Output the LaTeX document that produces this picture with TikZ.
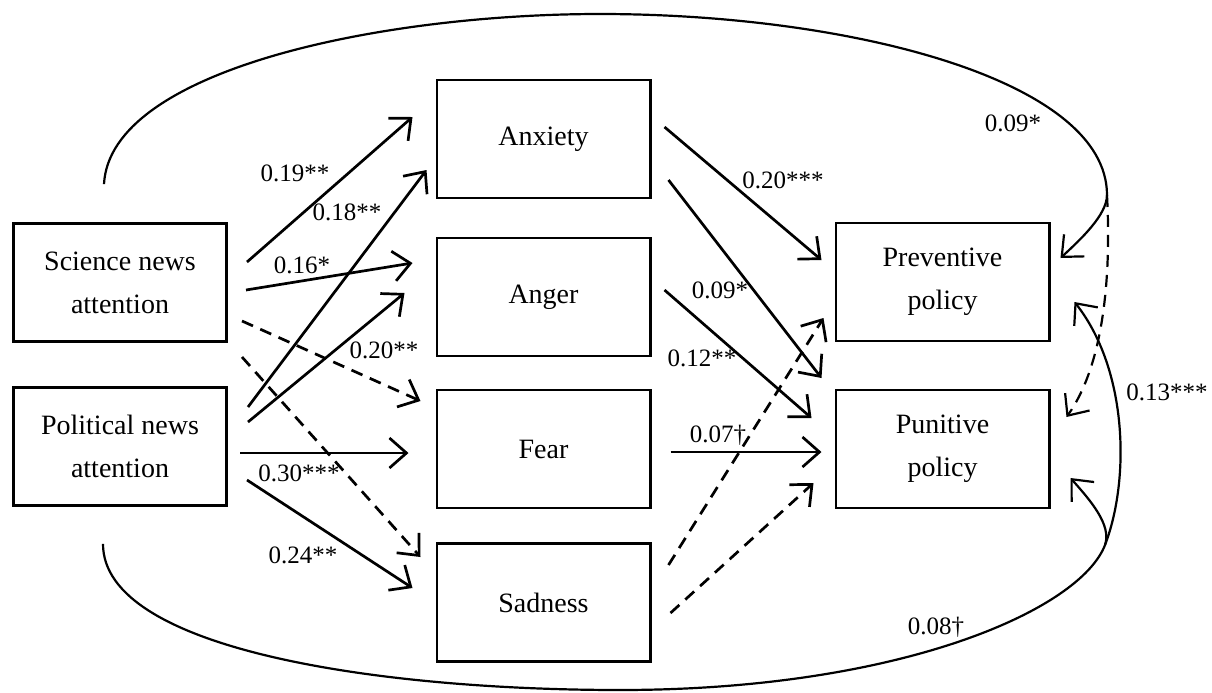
\documentclass[tikz,border=0pt]{standalone}
\usepackage{fontspec}
\setmainfont{Liberation Serif}
\usetikzlibrary{arrows.meta,calc}
\begin{document}
\begin{tikzpicture}[x=0.5pt,y=-0.5pt,
  box/.style={draw,line width=1.4pt,minimum width=106.6pt,minimum height=59pt,inner sep=0pt,align=center,font=\fontsize{14}{21.5}\selectfont},
  arr/.style={line width=1.35pt,-{Straight Barb[length=8.5pt,width=15pt,line width=1.35pt]}},
  darr/.style={arr,dash pattern=on 6pt off 4pt},
  carr/.style={line width=1.1pt,-{Straight Barb[length=8.5pt,width=15pt,line width=1.1pt]}},
  dcarr/.style={carr,dash pattern=on 6pt off 4pt},
  lbl/.style={font=\fontsize{12.5}{14}\selectfont,inner sep=0pt}]
\useasboundingbox (0,0) rectangle (1212,692);

% boxes
\node[box] (sci)  at (120,282.5)  {Science news\\attention};
\node[box] (pol)  at (120,446.5)  {Political news\\attention};
\node[box] (anx)  at (543.5,139)  {Anxiety};
\node[box] (ang)  at (543.5,297)  {Anger};
\node[box] (fear) at (543.5,449)  {Fear};
\node[box] (sad)  at (543.5,602.5){Sadness};
\node[box] (prev) at (942.5,282)  {Preventive\\policy};
\node[box] (pun)  at (942.5,449)  {Punitive\\policy};

% left paths
\draw[arr]  ($(sci.east)+(19,-20.5)$) -- ($(anx.west)+(-23,-22)$);
\draw[arr]  ($(sci.east)+(18,7.5)$)   -- ($(ang.west)+(-23,-34)$);
\draw[darr] ($(sci.east)+(14,38.5)$)  -- ($(fear.west)+(-15,-48)$);
\draw[darr] ($(sci.east)+(14,74.5)$)  -- ($(sad.west)+(-15,-45.5)$);
\draw[arr]  ($(pol.east)+(20,-39.5)$) -- ($(anx.west)+(-9,31)$);
\draw[arr]  ($(pol.east)+(20,-24.5)$) -- ($(ang.west)+(-31,-4)$);
\draw[arr]  ($(pol.east)+(12,6.5)$)   -- ($(fear.west)+(-27,4)$);
\draw[arr]  ($(pol.east)+(19,33.5)$)  -- ($(sad.west)+(-23,-14.5)$);

% right paths
\draw[arr]  ($(anx.east)+(13,-12)$)   -- ($(prev.west)+(-13,-22)$);
\draw[arr]  ($(anx.east)+(17,41)$)    -- ($(pun.west)+(-13,-71)$);
\draw[arr]  ($(ang.east)+(13,-7)$)    -- ($(pun.west)+(-23,-31)$);
\draw[arr]  ($(fear.east)+(19,3)$)    -- ($(pun.west)+(-13,3)$);
\draw[darr] ($(sad.east)+(17,-37.5)$) -- ($(prev.west)+(-11,36)$);
\draw[darr] ($(sad.east)+(19,10.5)$)  -- ($(pun.west)+(-21,34)$);

% correlation curves
\coordinate (tsplit) at (1107,195);
\draw[carr] ($(sci.north)+(-16,-38)$) .. controls (110,70) and (380,14) .. (600,14)
  .. controls (850,14) and (1107,80) .. (tsplit)
  .. controls (1107,215) and (1080,240) .. ($(prev.east)+(10,-24)$);
\draw[dcarr] (tsplit) .. controls (1112,290) and (1100,370) .. ($(pun.east)+(16,-32)$);

\coordinate (bsplit) at (1105,545);
\draw[carr] ($(pol.south)+(-17,37)$) .. controls (103,650) and (380,690) .. (620,690)
  .. controls (900,690) and (1080,610) .. (bsplit)
  .. controls (1112,525) and (1090,500) .. ($(pun.east)+(20,29)$);
\draw[carr] (bsplit) .. controls (1130,480) and (1128,370) .. ($(prev.east)+(24,20)$);

% labels
\node[lbl] (l1)  at (295,173)  {0.19**};
\node[lbl] (l2)  at (347,212)  {0.18**};
\node[lbl] (l3)  at (302,265)  {0.16*};
\node[lbl] (l4)  at (384,350)  {0.20**};
\node[lbl] (l5)  at (299,473)  {0.30***};
\node[lbl] (l6)  at (303,555)  {0.24**};
\node[lbl] (l7)  at (783,180)  {0.20***};
\node[lbl] (l8)  at (720,290)  {0.09*};
\node[lbl] (l9)  at (702,358)  {0.12**};
\node[lbl] (l10) at (718,435)  {0.07†};
\node[lbl] (l11) at (1013,123) {0.09*};
\node[lbl] (l12) at (1167,392) {0.13***};
\node[lbl] (l13) at (936,627)  {0.08†};
\end{tikzpicture}
\end{document}
